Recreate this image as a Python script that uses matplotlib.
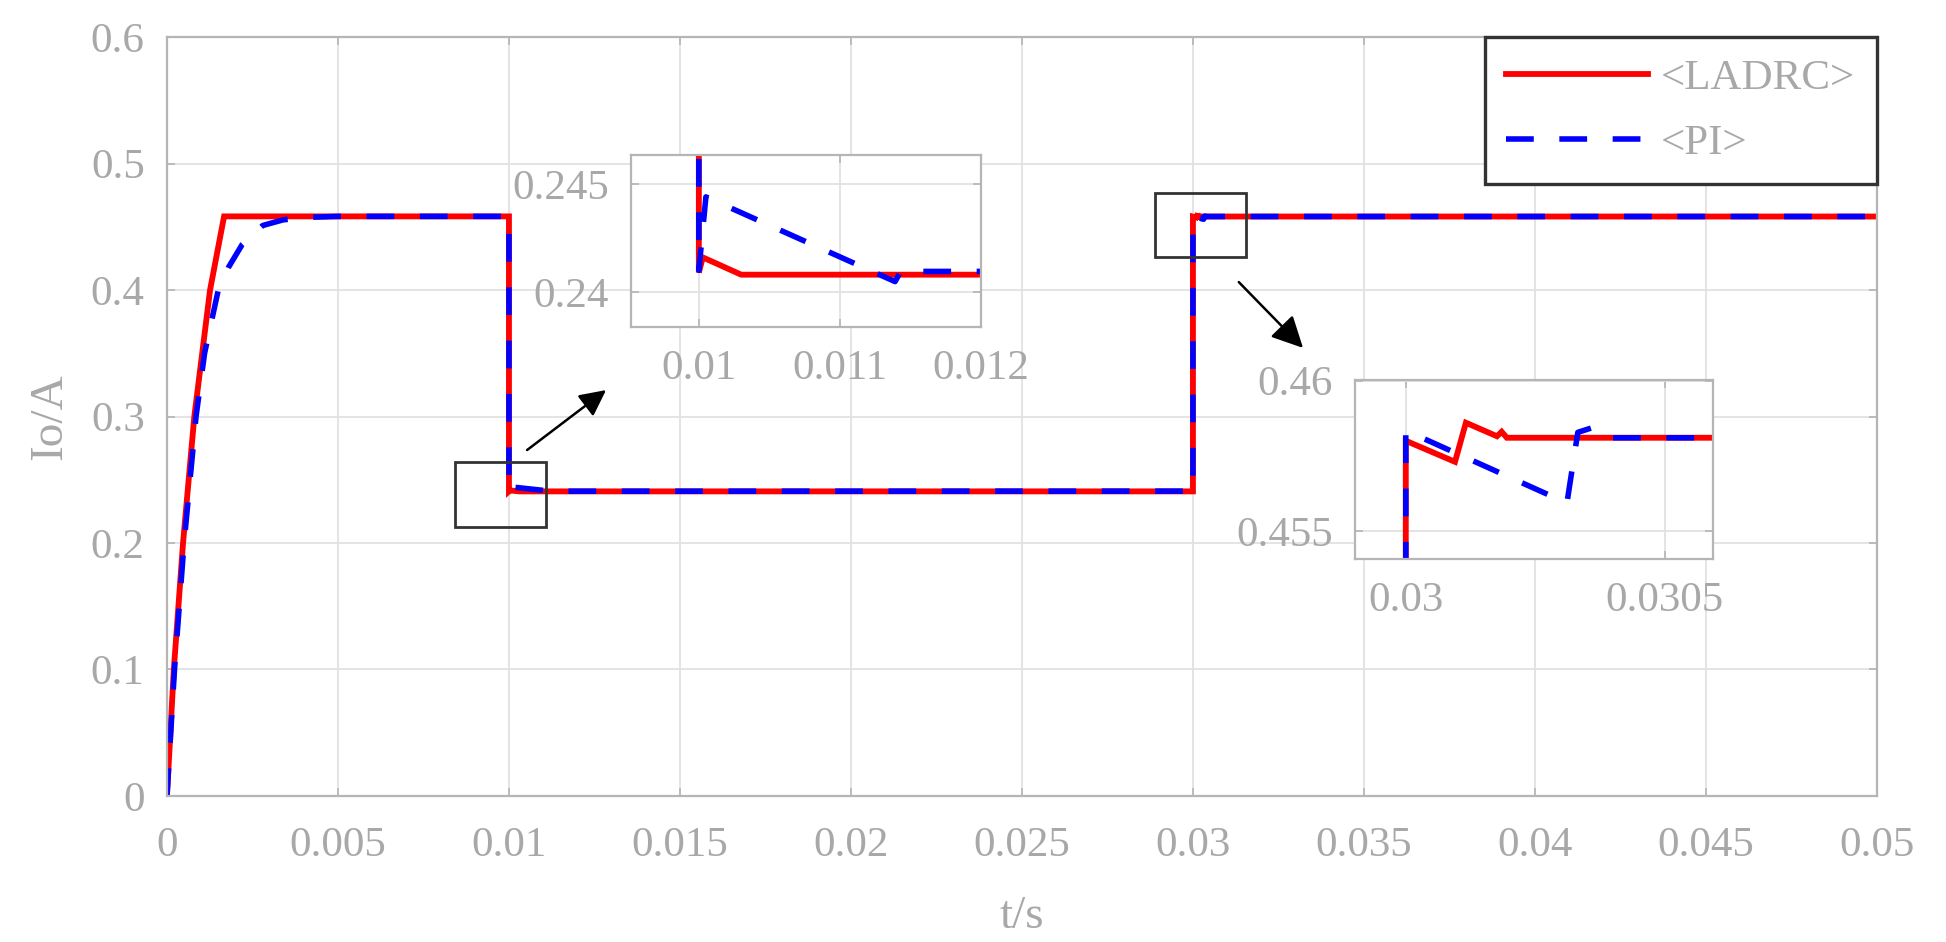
import matplotlib
matplotlib.use('Agg')
import matplotlib.pyplot as plt
from matplotlib.patches import Rectangle

# data
t_ladrc = [0, 0.0002, 0.00047, 0.0008, 0.00126, 0.00167, 0.01, 0.01, 0.010028, 0.0103,
           0.03, 0.03, 0.030095, 0.030116, 0.030176, 0.030185, 0.030195, 0.05]
i_ladrc = [0, 0.1, 0.2, 0.3, 0.4, 0.4582, 0.4582, 0.2409, 0.2416, 0.2408,
           0.2408, 0.4580, 0.4573, 0.4586, 0.45815, 0.4583, 0.4581, 0.4581]

t_pi = [0, 0.00022, 0.0005, 0.00085, 0.0011, 0.0015, 0.0018, 0.0022, 0.0028, 0.0034,
        0.0042, 0.005, 0.01, 0.01, 0.01005, 0.01139, 0.01143, 0.03, 0.03, 0.030311,
        0.030332, 0.030361, 0.030388, 0.05]
i_pi = [0, 0.1, 0.2, 0.3, 0.35, 0.4, 0.418, 0.436, 0.451, 0.4555,
        0.4575, 0.4582, 0.4582, 0.2410, 0.2444, 0.24048, 0.24095, 0.2410, 0.45834, 0.45593,
        0.45828, 0.45844, 0.4581, 0.4581]

x_ticks = [0, 0.005, 0.01, 0.015, 0.02, 0.025, 0.03, 0.035, 0.04, 0.045, 0.05]
x_labels = ['0', '0.005', '0.01', '0.015', '0.02', '0.025', '0.03', '0.035', '0.04', '0.045', '0.05']
y_ticks = [0, 0.1, 0.2, 0.3, 0.4, 0.5, 0.6]
y_labels = ['0', '0.1', '0.2', '0.3', '0.4', '0.5', '0.6']

in1_xticks = [0.01, 0.011, 0.012]
in1_xlabels = ['0.01', '0.011', '0.012']
in1_yticks = [0.24, 0.245]
in1_ylabels = ['0.24', '0.245']

in2_xticks = [0.03, 0.0305]
in2_xlabels = ['0.03', '0.0305']
in2_yticks = [0.455, 0.46]
in2_ylabels = ['0.455', '0.46']

plt.rcParams['font.family'] = ['Liberation Serif', 'DejaVu Serif']
txt = '#a8a8a8'
grid_c = '#e2e2e2'
spine_c = '#b5b5b5'
fs = 31

fig = plt.figure(figsize=(19.46, 9.42), dpi=100)


def style_axes(ax, pad=16):
    for s in ax.spines.values():
        s.set_color(spine_c)
        s.set_linewidth(1.6)
    ax.tick_params(direction='in', length=6, width=1.2, color=spine_c,
                   labelcolor=txt, labelsize=fs, top=True, right=True, pad=pad)
    ax.grid(True, color=grid_c, linewidth=1.3)
    ax.set_axisbelow(True)


def draw_lines(ax):
    ax.plot(t_ladrc, i_ladrc, color='#ff0000', lw=4.2, label='<LADRC>', solid_joinstyle='miter')
    ax.plot(t_pi, i_pi, color='#0000ff', lw=4.0, dashes=(5, 4.6), label='<PI>')


ax = fig.add_axes([0.0858, 0.155, 0.8787, 0.8057])
draw_lines(ax)
ax.set_xlim(0, 0.05)
ax.set_ylim(0, 0.6)
ax.set_xticks(x_ticks, x_labels)
ax.set_yticks(y_ticks, y_labels)
style_axes(ax)
ax.tick_params(axis='x', pad=22)
ax.set_xlabel('t/s', color=txt, fontsize=34, labelpad=22)
ax.set_ylabel('Io/A', color=txt, fontsize=34, labelpad=14)

leg = ax.legend(loc='upper right', bbox_to_anchor=(1.0, 1.0), borderaxespad=0,
                fontsize=fs, handlelength=3.3, handletextpad=0.3, labelspacing=0.6,
                borderpad=0.5, fancybox=False, framealpha=1)
leg.get_frame().set_edgecolor('#333333')
leg.get_frame().set_linewidth(2.4)
for t in leg.get_texts():
    t.set_color(txt)

# zoom boxes and arrows
ax.add_patch(Rectangle((0.00842, 0.2127), 0.00266, 0.0513, fill=False,
                       edgecolor='#333333', lw=2.0, zorder=5))
ax.add_patch(Rectangle((0.02889, 0.4261), 0.00266, 0.0506, fill=False,
                       edgecolor='#333333', lw=2.0, zorder=5))
ax.annotate('', xy=(0.01284, 0.3209), xytext=(0.01053, 0.2735),
            arrowprops=dict(arrowstyle='-|>', mutation_scale=40, lw=1.8, color='black',
                            shrinkA=0, shrinkB=0))
ax.annotate('', xy=(0.03322, 0.3542), xytext=(0.03134, 0.4063),
            arrowprops=dict(arrowstyle='-|>', mutation_scale=48, lw=1.8, color='black',
                            shrinkA=0, shrinkB=0))

# inset 1
ax1 = fig.add_axes([0.3243, 0.6529, 0.1799, 0.1826])
draw_lines(ax1)
ax1.set_xlim(0.00952, 0.012)
ax1.set_ylim(0.23838, 0.24634)
ax1.set_xticks(in1_xticks, in1_xlabels)
ax1.set_yticks(in1_yticks, in1_ylabels)
style_axes(ax1)

# inset 2
ax2 = fig.add_axes([0.6963, 0.4066, 0.1840, 0.1900])
draw_lines(ax2)
ax2.set_xlim(0.029902, 0.030593)
ax2.set_ylim(0.45407, 0.46002)
ax2.set_xticks(in2_xticks, in2_xlabels)
ax2.set_yticks(in2_yticks, in2_ylabels)
style_axes(ax2)

fig.savefig('out.png', dpi=100)
